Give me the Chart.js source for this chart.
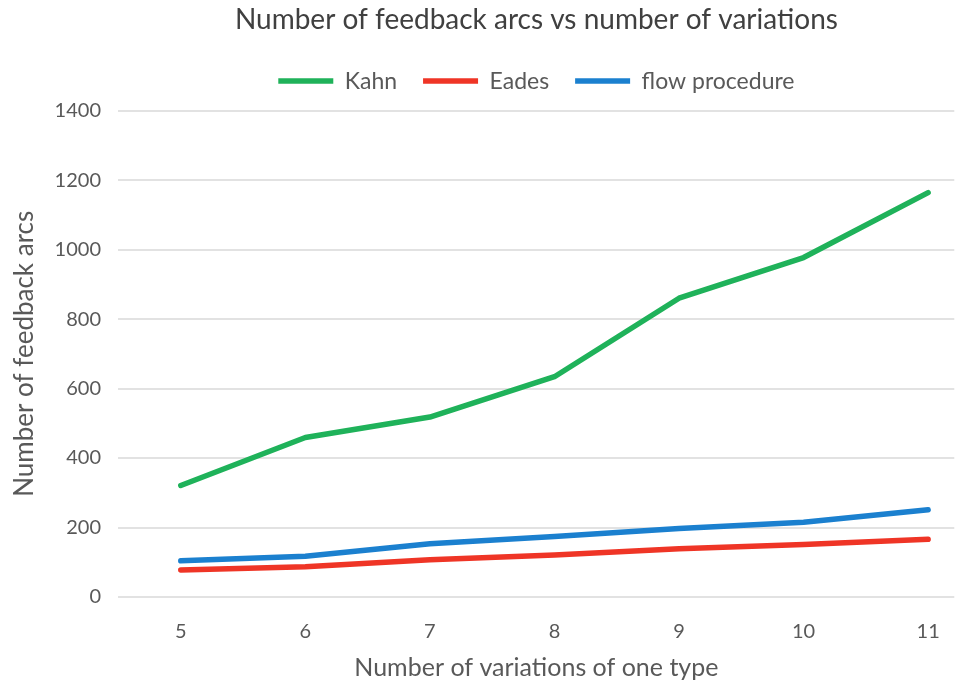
<!DOCTYPE html>
<html>
<head>
<meta charset="utf-8">
<script src="https://cdn.jsdelivr.net/npm/chart.js@4"></script>
<style>
  html, body { margin: 0; padding: 0; background: #ffffff; }
  #wrap { width: 963px; height: 687px; }
</style>
</head>
<body>
<div id="wrap"><canvas id="arcs-chart" width="963" height="687"></canvas></div>
<script>
// Number of variations of one type (x categories)
const variations = [5, 6, 7, 8, 9, 10, 11];

// Feedback arcs per method
const kahn_values = [321, 459, 518, 634, 860, 977, 1164];
const eades_values = [78, 87, 107, 121, 139, 151, 166];
const flow_values = [104, 117, 153, 174, 197, 215, 251];

const y_ticks = [0, 200, 400, 600, 800, 1000, 1200, 1400];

const series_names = ["Kahn", "Eades", "flow procedure"];
const series_colours = ["#1fb25a", "#ef3526", "#1b80cf"];

const font_family = "Lato, 'Open Sans', sans-serif";
const text_grey = "#595959";

const toPoints = vals => variations.map((v, i) => ({ x: v, y: vals[i] }));

const datasets = [kahn_values, eades_values, flow_values].map((vals, i) => ({
  label: series_names[i],
  data: toPoints(vals),
  borderColor: series_colours[i],
  backgroundColor: series_colours[i],
  borderWidth: 5.5,
  borderCapStyle: "round",
  borderJoinStyle: "round",
  pointRadius: 0,
  pointStyle: "line",
  tension: 0
}));

// a bit more room under the legend row than labels.padding gives
const legendGap = {
  id: "legendGap",
  beforeInit(chart) {
    const fit = chart.legend.fit;
    chart.legend.fit = function () {
      fit.call(this);
      this.height += 8;
    };
  }
};

new Chart(document.getElementById("arcs-chart"), {
  type: "line",
  data: { datasets },
  options: {
    responsive: false,
    animation: false,
    layout: { padding: { left: 4, right: 2, top: 0, bottom: 4 } },
    scales: {
      x: {
        type: "linear",
        min: 4.5,
        max: 11.21,
        afterBuildTicks: axis => { axis.ticks = variations.map(v => ({ value: v })); },
        grid: { display: false, drawTicks: false },
        border: { display: false },
        ticks: {
          color: text_grey,
          font: { family: font_family, size: 20 },
          padding: 23,
          maxRotation: 0
        },
        title: {
          display: true,
          text: "Number of variations of one type",
          color: text_grey,
          font: { family: font_family, size: 25 },
          padding: { top: -14, bottom: 0 } // tick padding is counted twice in the axis height
        }
      },
      y: {
        min: 0,
        max: 1400,
        afterBuildTicks: axis => { axis.ticks = y_ticks.map(v => ({ value: v })); },
        grid: { color: "#e2e2e2", lineWidth: 2, drawTicks: false },
        border: { display: false },
        ticks: {
          color: text_grey,
          font: { family: font_family, size: 20 },
          padding: 17.5,
          callback: v => String(v)
        },
        title: {
          display: true,
          text: "Number of feedback arcs",
          color: text_grey,
          font: { family: font_family, size: 26 },
          padding: { top: 5.4, bottom: -3.5 }
        }
      }
    },
    plugins: {
      title: {
        display: true,
        fullSize: false,
        text: "Number of feedback arcs vs number of variations",
        color: "#404040",
        font: { family: font_family, size: 28, weight: "normal" },
        padding: { top: 3, bottom: 7 }
      },
      legend: {
        position: "top",
        fullSize: false,
        labels: {
          usePointStyle: true,
          pointStyleWidth: 55,
          color: text_grey,
          font: { family: font_family, size: 23 },
          padding: 26
        }
      },
      tooltip: { enabled: false }
    }
  },
  plugins: [legendGap]
});
</script>
</body>
</html>
